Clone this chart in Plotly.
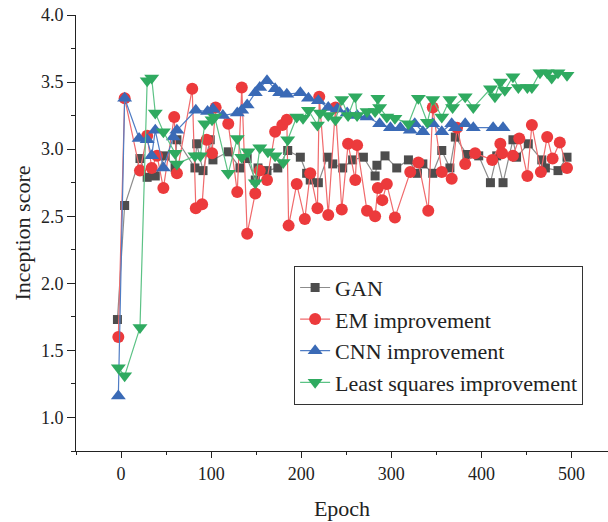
import plotly.graph_objects as go

gan_epoch = [-4, 4, 21, 29, 38, 49, 60, 62, 82, 84, 91, 99, 102, 119, 132, 140, 149, 152, 162, 174,
             185, 199, 206, 210, 219, 229, 235, 246, 257, 269, 282, 284, 293, 306, 319, 329, 335, 346,
             356, 365, 371, 384, 397, 410, 417, 424, 435, 439, 452, 467, 471, 485, 495]
gan_score = [1.73, 2.58, 2.93, 2.79, 2.80, 2.95, 2.86, 3.07, 2.86, 3.04, 2.84, 3.07, 2.92, 2.98, 2.86, 2.93,
             2.77, 2.86, 2.84, 2.86, 2.99, 2.94, 2.82, 2.77, 2.75, 2.94, 2.89, 2.86, 2.92, 2.94, 2.80, 2.88,
             2.95, 2.86, 2.92, 2.82, 2.89, 2.82, 2.99, 2.86, 3.09, 2.96, 2.95, 2.75, 2.95, 2.75, 3.07, 2.94,
             3.04, 2.92, 2.86, 2.84, 2.94]

em_epoch = [-3, 4, 21, 29, 34, 40, 47, 59, 62, 79, 83, 90, 95, 101, 105, 119, 129, 134, 140, 149, 154,
            162, 171, 179, 184, 186, 195, 204, 210, 218, 220, 230, 238, 245, 252, 260, 262, 273, 282,
            285, 290, 295, 304, 321, 330, 341, 346, 356, 367, 373, 382, 393, 412, 421, 423, 435, 442,
            451, 456, 466, 473, 479, 487, 495]
em_score = [1.60, 3.38, 2.84, 3.10, 2.86, 2.95, 2.71, 3.24, 2.82, 3.45, 2.56, 2.59, 3.07, 2.97, 3.31, 3.19,
            2.68, 3.46, 2.37, 2.67, 2.84, 2.77, 3.13, 3.18, 3.22, 2.43, 2.74, 2.48, 2.82, 2.56, 3.39, 2.51,
            3.31, 2.55, 3.04, 2.77, 3.03, 2.54, 2.50, 2.71, 2.62, 2.74, 2.49, 2.83, 2.90, 2.54, 3.31, 2.83,
            2.78, 3.16, 2.89, 2.97, 2.92, 3.04, 2.97, 2.95, 3.08, 2.80, 3.18, 2.83, 3.09, 2.93, 3.05, 2.86]

cnn_epoch = [-3, 4, 20, 29, 34, 38, 47, 58, 62, 83, 96, 102, 113, 129, 134, 140, 149, 154, 162, 171, 176,
             184, 199, 208, 219, 230, 240, 251, 262, 273, 287, 299, 310, 321, 326, 335, 346, 356, 367,
             371, 382, 391, 413, 424]
cnn_score = [1.16, 3.38, 3.08, 3.07, 2.95, 3.14, 2.86, 3.09, 3.14, 3.29, 3.28, 3.30, 3.25, 3.27, 3.29, 3.33,
             3.42, 3.46, 3.51, 3.45, 3.42, 3.41, 3.42, 3.38, 3.36, 3.31, 3.30, 3.27, 3.25, 3.24, 3.19, 3.16,
             3.16, 3.14, 3.19, 3.13, 3.19, 3.13, 3.19, 3.16, 3.19, 3.16, 3.16, 3.16]

ls_epoch = [-3, 4, 21, 29, 34, 38, 47, 60, 62, 82, 88, 93, 101, 104, 119, 129, 134, 141, 149, 154, 163,
            171, 180, 185, 195, 202, 208, 218, 221, 230, 238, 245, 252, 260, 262, 273, 282, 285, 287,
            295, 304, 319, 330, 340, 346, 356, 365, 368, 382, 391, 410, 415, 421, 426, 435, 441, 451,
            456, 465, 473, 478, 485, 495]
ls_score = [1.37, 1.31, 1.67, 3.51, 3.53, 3.27, 3.13, 2.97, 2.89, 2.95, 2.95, 3.19, 3.22, 3.24, 2.82, 3.08,
            2.94, 2.98, 2.75, 3.01, 2.98, 2.95, 2.90, 3.07, 3.24, 3.23, 3.29, 3.18, 3.27, 3.25, 3.22, 3.37,
            3.25, 3.39, 3.25, 3.28, 3.28, 3.38, 3.31, 3.24, 3.23, 3.19, 3.38, 3.20, 3.37, 3.24, 3.37, 3.31,
            3.39, 3.31, 3.45, 3.39, 3.50, 3.44, 3.54, 3.46, 3.46, 3.46, 3.57, 3.57, 3.53, 3.57, 3.55]

series = [
    ("GAN", gan_epoch, gan_score, "square", 9, "#4d4d4d", "#8c8c8c"),
    ("EM improvement", em_epoch, em_score, "circle", 12, "#ec3a3c", "#f06a6c"),
    ("CNN improvement", cnn_epoch, cnn_score, "triangle-up", 13, "#3a6ab6", "#4f7cc4"),
    ("Least squares improvement", ls_epoch, ls_score, "triangle-down", 13, "#2faa60", "#5cc285"),
]

fig = go.Figure()
for name, xs, ys, sym, size, mcol, lcol in series:
    fig.add_trace(go.Scatter(
        x=xs, y=ys, name=name, mode="lines+markers",
        line=dict(color=lcol, width=1.2),
        marker=dict(symbol=sym, size=size, color=mcol, line=dict(width=0)),
    ))

font_family = "Liberation Serif, Times New Roman, serif"
fig.update_layout(
    width=608, height=522,
    margin=dict(l=76, r=0, t=15, b=71),
    paper_bgcolor="white", plot_bgcolor="white",
    font=dict(family=font_family, size=18, color="#222"),
    showlegend=True,
    legend=dict(
        x=0.41, y=0.425, xanchor="left", yanchor="top",
        bgcolor="white", bordercolor="#333", borderwidth=1,
        font=dict(family=font_family, size=22, color="#222"),
        itemwidth=30, tracegroupgap=0,
    ),
    xaxis=dict(
        range=[-50, 540.5], tick0=0, dtick=100,
        showgrid=False, zeroline=False,
        showline=True, linecolor="#222", linewidth=1,
        ticks="outside", ticklen=6, tickcolor="#222",
        minor=dict(dtick=50, ticks="outside", ticklen=3, tickcolor="#222", showgrid=False),
        title=dict(text="Epoch", font=dict(size=22), standoff=18),
    ),
    yaxis=dict(
        range=[0.75, 4.0], tick0=1.0, dtick=0.5, tickformat=".1f",
        showgrid=False, zeroline=False,
        showline=True, linecolor="#222", linewidth=1,
        ticks="outside", ticklen=8, tickcolor="#222",
        minor=dict(dtick=0.25, ticks="outside", ticklen=4, tickcolor="#222", showgrid=False),
        title=dict(text="Inception score", font=dict(size=22), standoff=4),
    ),
)

fig.write_html("out.html")
